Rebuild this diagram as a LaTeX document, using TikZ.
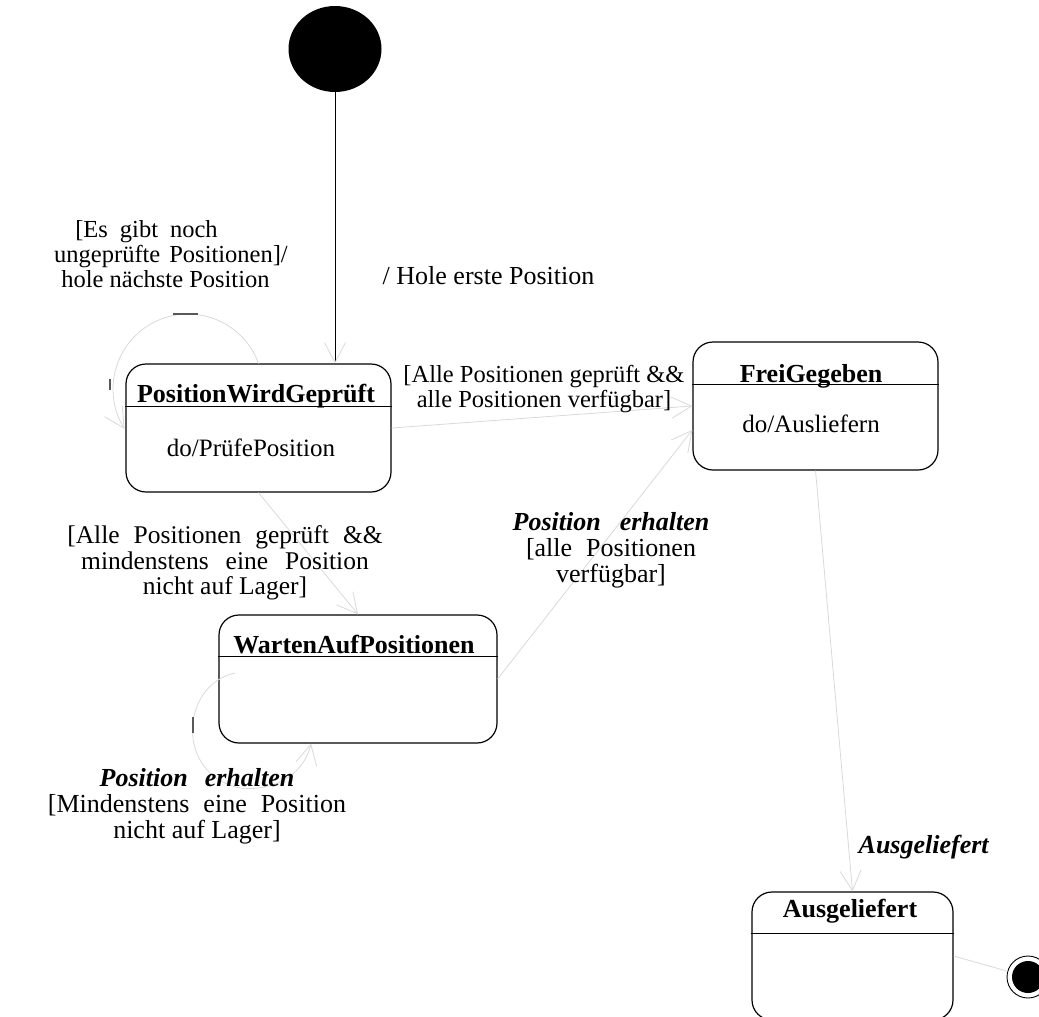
\documentclass[tikz,border=0pt]{standalone}
\usepackage{fontspec}
\setmainfont{Liberation Serif}
\usetikzlibrary{arrows.meta,calc,shapes.geometric}
\begin{document}
\begin{tikzpicture}[x=1pt,y=-1pt,
  statebox/.style={draw=black, line width=1.2pt, rounded corners=20pt, inner sep=0pt},
  sepline/.style={draw=black, line width=1.2pt},
  ttl/.style={font=\fontsize{26}{26}\selectfont\bfseries, inner sep=0pt, anchor=base},
  body/.style={font=\fontsize{25}{25}\selectfont, inner sep=0pt, anchor=base},
  lbl/.style={font=\fontsize{24.5}{25}\selectfont, inner sep=0pt, align=center},
  lblb/.style={font=\fontsize{26}{26}\selectfont, inner sep=0pt, align=center},
  conn/.style={draw=black!15, line width=0.8pt, -{Straight Barb[length=20pt,width=21pt,line width=0.8pt]}},
  plainconn/.style={draw=black!15, line width=0.8pt},
  loopmark/.style={draw=black!65, line width=1.4pt},
]
\useasboundingbox (0,0) rectangle (1039,1017);

% initial state
\node[ellipse, fill=black, minimum width=93pt, minimum height=86pt, inner sep=0pt] (init) at (335,49) {};

% states
\node[statebox, minimum width=265pt, minimum height=128pt] (pwg) at (258.5,428) {};
\draw[sepline] ($(pwg.north west)+(0,43)$) -- ($(pwg.north east)+(0,43)$);
\node[ttl] (pwgt) at (256,402) {PositionWirdGeprüft};
\node[body] (pwgb) at (251,456) {do/PrüfePosition};

\node[statebox, minimum width=245pt, minimum height=128pt] (fg) at (815.5,406) {};
\draw[sepline] ($(fg.north west)+(0,43)$) -- ($(fg.north east)+(0,43)$);
\node[ttl] (fgt) at (811,382) {FreiGegeben};
\node[body] (fgb) at (811,432) {do/Ausliefern};

\node[statebox, minimum width=278pt, minimum height=128pt] (wap) at (358,679) {};
\draw[sepline] ($(wap.north west)+(0,42)$) -- ($(wap.north east)+(0,42)$);
\node[ttl] (wapt) at (354,653) {WartenAufPositionen};

\node[statebox, minimum width=201pt, minimum height=128pt] (aus) at (852.5,956) {};
\draw[sepline] ($(aus.north west)+(0,42)$) -- ($(aus.north east)+(0,42)$);
\node[ttl] (aust) at (850,917) {Ausgeliefert};

% final state
\node[circle, draw=black, line width=0.9pt, minimum size=42pt, inner sep=0pt] (final) at (1028,977) {};
\node[circle, fill=black, minimum size=32pt, inner sep=0pt] (finalin) at (final) {};

% connectors
\draw[draw=black, line width=1pt, -{Straight Barb[length=20pt,width=21pt,line width=0.8pt,color=black!15]}] (init.south) -- (init |- pwg.north);
\draw[conn] (pwg.east) -- (fg.west);
\draw[conn] (pwg.south) -- (wap.north);
\draw[conn] (wap.east) -- (fg.191);
\draw[conn] (fg.south) -- (aus.north);
\draw[plainconn] (aus.east) -- (final);

% self loops
\draw[conn] (pwg.north) arc[start angle=20, end angle=212, radius=75pt];
\coordinate (wloop) at (235,673);
\draw[conn] (wloop) .. controls (180,685) and (175,775) .. (240,788) .. controls (280,792) and (305,770) .. (wap.234);

% loop marks
\draw[loopmark] (173,314) -- (198,314);
\draw[loopmark] (110,379) -- (110,390);
\draw[loopmark] (193,717) -- (193,733);

% labels
\node[lbl] (l1) at (171,254) {\hspace*{-49pt}{\spaceskip=12pt [Es gibt noch}\\ungeprüfte{\spaceskip=9pt{} Positionen]/}\\\hspace*{-11pt}hole nächste Position};
\node[lblb] (l2) at (488.5,276) {/ Hole erste Position};
\node[lbl] (l3) at (544,389) {[Alle Positionen geprüft \&\&\\alle Positionen verfügbar]};
\node[font=\fontsize{25.5}{25.5}\selectfont, inner sep=0pt, align=center] (l4) at (225,563) {{\spaceskip=14pt [Alle Positionen geprüft \&\&}\\{\spaceskip=17pt mindenstens eine Position}\\nicht auf Lager]};
\node[lblb] (l5) at (611,550) {{\spaceskip=19pt \textbf{\textit{Position erhalten}}}\\{\spaceskip=14pt [alle Positionen}\\verfügbar]};
\node[lblb] (l6) at (197,806) {{\spaceskip=17pt \textbf{\textit{Position erhalten}}}\\{\spaceskip=14pt [Mindenstens eine Position}\\nicht auf Lager]};
\node[lblb] (l7) at (924,847) {\textbf{\textit{Ausgeliefert}}};
\end{tikzpicture}
\end{document}
